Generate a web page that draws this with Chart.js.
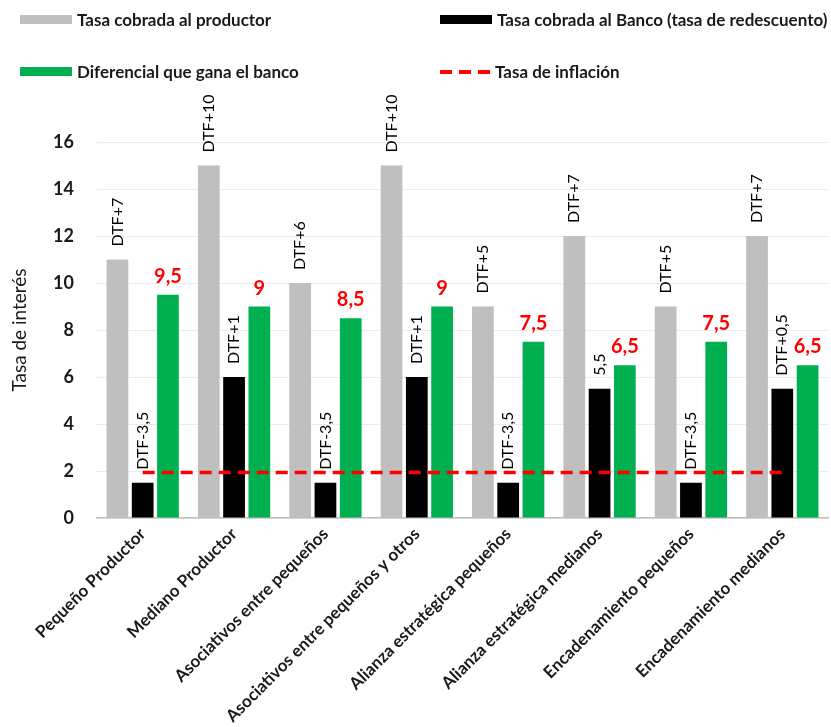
<!DOCTYPE html>
<html>
<head>
<meta charset="utf-8">
<script src="https://cdn.jsdelivr.net/npm/chart.js@4/dist/chart.umd.min.js"></script>
<style>
  body { margin: 0; background: #fff; }
  #caja { position: relative; width: 831px; height: 727px; }
  #grafico { position: absolute; left: 0; top: 0; }
  .item { position: absolute; display: flex; align-items: center; font: bold 17px Lato, sans-serif; color: #1a1a1a; white-space: nowrap; }
  .muestra { width: 52px; height: 9px; margin-right: 5px; }
</style>
</head>
<body>
<div id="caja">
  <canvas id="grafico" width="831" height="727"></canvas>
  <div id="leyenda"></div>
</div>
<script>
const categorias = [
  'Pequeño Productor', 'Mediano Productor', 'Asociativos entre pequeños',
  'Asociativos entre pequeños y otros', 'Alianza estratégica pequeños',
  'Alianza estratégica medianos', 'Encadenamiento pequeños', 'Encadenamiento medianos'
];
const tasaProductor = [11, 15, 10, 15, 9, 12, 9, 12];
const tasaBanco = [1.5, 6, 1.5, 6, 1.5, 5.5, 1.5, 5.5];
const diferencial = [9.5, 9, 8.5, 9, 7.5, 6.5, 7.5, 6.5];
const inflacion = [1.94, 1.94, 1.94, 1.94, 1.94, 1.94, 1.94, 1.94];

const etiquetasProductor = ['DTF+7', 'DTF+10', 'DTF+6', 'DTF+10', 'DTF+5', 'DTF+7', 'DTF+5', 'DTF+7'];
const etiquetasBanco = ['DTF-3,5', 'DTF+1', 'DTF-3,5', 'DTF+1', 'DTF-3,5', '5,5', 'DTF-3,5', 'DTF+0,5'];
const etiquetasDiferencial = ['9,5', '9', '8,5', '9', '7,5', '6,5', '7,5', '6,5'];

// etiquetas sobre las barras
const pluginEtiquetas = {
  id: 'etiquetas',
  afterDatasetsDraw(chart) {
    const ctx = chart.ctx;
    const textos = [etiquetasProductor, etiquetasBanco, etiquetasDiferencial];
    textos.forEach((lista, i) => {
      const meta = chart.getDatasetMeta(i);
      meta.data.forEach((barra, j) => {
        ctx.save();
        if (i < 2) {
          ctx.font = '16px Lato, sans-serif';
          ctx.fillStyle = '#000';
          ctx.translate(barra.x, barra.y - 13);
          ctx.rotate(-Math.PI / 2);
          ctx.textAlign = 'left';
          ctx.textBaseline = 'middle';
          ctx.fillText(lista[j], 0, 0);
        } else {
          ctx.font = 'bold 20px Lato, sans-serif';
          ctx.fillStyle = '#ff0000';
          ctx.textAlign = 'center';
          ctx.textBaseline = 'alphabetic';
          ctx.fillText(lista[j], barra.x, barra.y - 12);
        }
        ctx.restore();
      });
    });
  }
};

const grafico = new Chart(document.getElementById('grafico'), {
  type: 'bar',
  data: {
    labels: categorias,
    datasets: [
      { label: 'Tasa cobrada al productor', data: tasaProductor, backgroundColor: '#bfbfbf', order: 1 },
      { label: 'Tasa cobrada al Banco (tasa de redescuento)', data: tasaBanco, backgroundColor: '#000000', order: 1 },
      { label: 'Diferencial que gana el banco', data: diferencial, backgroundColor: '#00b050', order: 1 },
      { label: 'Tasa de inflación', type: 'line', data: inflacion, borderColor: '#ff0000', borderWidth: 3.5,
        borderDash: [12, 7], pointRadius: 0, fill: false, order: 0 }
    ]
  },
  options: {
    responsive: false,
    animation: false,
    layout: { padding: { top: 142, right: 3, left: 0, bottom: 0 } },
    datasets: { bar: { categoryPercentage: 0.83, barPercentage: 0.86 } },
    plugins: { legend: { display: false }, tooltip: { enabled: false } },
    scales: {
      x: {
        afterFit: s => { s.height = 209; },
        grid: { display: false, drawTicks: false },
        border: { color: '#bfbfbf', width: 1.5 },
        ticks: { minRotation: 45, maxRotation: 45, autoSkip: false, padding: 6, color: '#1a1a1a',
          font: { family: 'Lato', weight: 'bold', size: 17 } }
      },
      y: {
        min: 0, max: 16,
        afterFit: s => { s.width = 97; },
        grid: { color: '#ececec', drawTicks: false },
        border: { display: false },
        ticks: { stepSize: 2, padding: 23, color: '#1a1a1a', font: { family: 'Lato', weight: 'bold', size: 18 } },
        title: { display: true, text: 'Tasa de interés', color: '#1a1a1a', padding: { top: 8, bottom: 0 },
          font: { family: 'Lato', size: 19 } }
      }
    }
  },
  plugins: [pluginEtiquetas]
});

// leyenda en HTML, dos columnas
const posiciones = [[20, 20], [440, 20], [20, 72], [440, 72]];
const leyenda = document.getElementById('leyenda');
grafico.data.datasets.forEach((ds, i) => {
  const item = document.createElement('div');
  item.className = 'item';
  item.style.left = posiciones[i][0] + 'px';
  item.style.top = (posiciones[i][1] - 11) + 'px';
  const muestra = document.createElement('div');
  muestra.className = 'muestra';
  if (ds.type === 'line') {
    muestra.style.height = '4px';
    muestra.style.width = '50px';
    muestra.style.background = 'repeating-linear-gradient(to right, #ff0000 0 12px, transparent 12px 19px)';
  } else {
    muestra.style.background = ds.backgroundColor;
  }
  item.appendChild(muestra);
  const texto = document.createElement('span');
  texto.textContent = ds.label;
  item.appendChild(texto);
  leyenda.appendChild(item);
});
</script>
</body>
</html>
